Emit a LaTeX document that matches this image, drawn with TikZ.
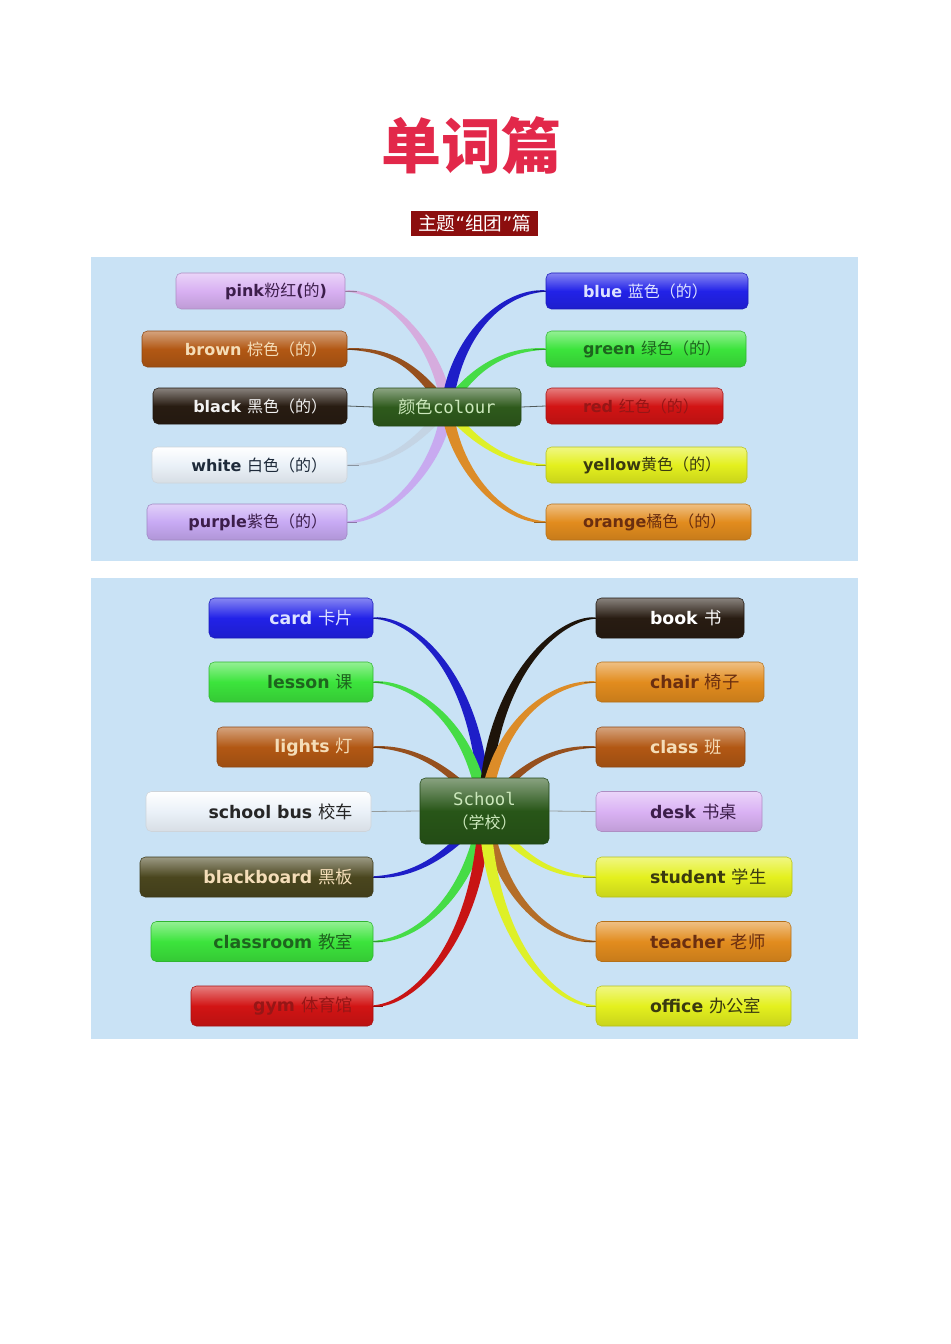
\documentclass[tikz,border=0pt]{standalone}
\usepackage{fontspec}
\setmainfont{DejaVu Sans}
\newfontfamily\cjk{Noto Sans CJK SC}
\newfontfamily\monof{DejaVu Sans Mono}
\usetikzlibrary{calc}
\pgfdeclarelayer{bg}\pgfdeclarelayer{mid}\pgfsetlayers{bg,mid,main}
\definecolor{panel}{RGB}{201,226,245}
\definecolor{titleRed}{RGB}{226,40,74}
\definecolor{subRed}{RGB}{140,14,14}
% node fills
\definecolor{fPink}{RGB}{216,176,242}
\definecolor{fBrown}{RGB}{178,88,20}
\definecolor{fBlack}{RGB}{40,28,18}
\definecolor{fWhite}{RGB}{234,241,248}
\definecolor{fPurple}{RGB}{200,170,244}
\definecolor{fCenter}{RGB}{46,90,28}
\definecolor{fBlue}{RGB}{34,34,232}
\definecolor{fGreen}{RGB}{60,228,60}
\definecolor{fRed}{RGB}{210,20,20}
\definecolor{fYellow}{RGB}{228,240,30}
\definecolor{fOrange}{RGB}{226,140,30}
\definecolor{fOlive}{RGB}{74,70,30}
\definecolor{fSchool}{RGB}{40,86,24}
\definecolor{fDesk}{RGB}{218,178,244}
% text colours
\definecolor{tDarkPurple}{RGB}{60,30,74}
\definecolor{tCream}{RGB}{244,221,184}
\definecolor{tWhite}{RGB}{242,242,242}
\definecolor{tNavy}{RGB}{30,42,58}
\definecolor{tLightBlue}{RGB}{221,226,255}
\definecolor{tDarkGreen}{RGB}{30,100,30}
\definecolor{tDarkRed}{RGB}{150,22,22}
\definecolor{tOlive}{RGB}{58,58,16}
\definecolor{tBrownDark}{RGB}{106,46,16}
\definecolor{tCenter}{RGB}{204,232,188}
% branch colours
\definecolor{bPink}{RGB}{214,172,222}
\definecolor{bBrown}{RGB}{150,80,30}
\definecolor{bWhite}{RGB}{196,212,228}
\definecolor{bPurple}{RGB}{200,170,240}
\definecolor{bBlue}{RGB}{30,30,200}
\definecolor{bGreen}{RGB}{70,220,70}
\definecolor{bYellow}{RGB}{222,240,40}
\definecolor{bOrange}{RGB}{220,140,40}
\definecolor{bRed}{RGB}{200,20,20}
\definecolor{bBlack}{RGB}{30,20,10}
\definecolor{bTeacher}{RGB}{180,110,40}
\definecolor{thinline}{RGB}{80,90,90}
% tapered branch: colour, end point, end ctrl dx, hub, hub ctrl dx, hub ctrl dy, side
\newcommand\branch[7]{%
  \fill[#1] ($(#2)+(0,0.7)$) .. controls ($(#2)+(#3,3.5)$) and ($(#4)+({#5+(#7)*6},#6)$) .. ($(#4)+({(#7)*6},0)$)
    -- ($(#4)+({-(#7)*6},0)$) .. controls ($(#4)+({#5-(#7)*6},#6)$) and ($(#2)+(#3,-3.5)$) .. ($(#2)+(0,-0.7)$) -- cycle;
  \draw[#1!70!black, line width=0.5pt] (#2) -- ++({(#3)*0.25},0);}
\newcommand\wrd[2]{\textbf{#1}{\cjk #2}}
\begin{document}
\begin{tikzpicture}[x=0.75pt,y=-0.75pt,
  box/.style={rounded corners=4pt, inner sep=0, minimum height=27pt,
    top color=#1!55!white, bottom color=#1!88!black, middle color=#1, draw=#1!80!black, line width=0.4pt},
  wbox/.style={rounded corners=4pt, inner sep=0, minimum height=27pt,
    top color=white, bottom color=fWhite!92!black, middle color=fWhite, draw=fWhite!88!black, line width=0.4pt},
  tall/.style={minimum height=30pt},
  txt/.style={inner sep=0, text=#1, font=\fontsize{12}{14}\selectfont},
  btxt/.style={inner sep=0, text=#1, font=\fontsize{13}{15}\selectfont},
  thin/.style={draw=thinline, line width=0.6pt}]
\useasboundingbox (0,0) rectangle (950,1344);

% title
\node[font=\cjk\bfseries\fontsize{45}{50}\selectfont, text=titleRed, inner sep=0] (title) at (471,146) {单词篇};
\node[fill=subRed, text=white, font=\fontsize{14}{16}\selectfont, minimum width=95.25pt, minimum height=18.75pt, inner sep=0] (sub) at (474.5,223.5) {{\cjk 主题}“{\cjk 组团}”{\cjk 篇}};

\begin{pgfonlayer}{bg}
  \fill[panel] (91,257) rectangle (858,561);
  \fill[panel] (91,578) rectangle (858,1039);
\end{pgfonlayer}

% ===== top mind map =====
\node[box=fCenter, minimum width=111pt, minimum height=28.5pt, text=tCenter, font=\fontsize{13}{15}\selectfont] (colour) at (447,407) {{\cjk 颜色}{\monof colour}};

\node[box=fPink, minimum width=126.75pt] (nPink) at (260.5,291) {};
\node[txt=tDarkPurple, anchor=east] (tPink) at ($(nPink.east)+(-18,0)$) {\textbf{pink}{\cjk 粉红}\textbf{(}{\cjk 的}\textbf{)}};
\node[box=fBrown, minimum width=153.75pt] (nBrown) at (244.5,349) {};
\node[txt=tCream, anchor=east] (tBrown) at ($(nBrown.east)+(-20,0)$) {\wrd{brown }{棕色（的）}};
\node[box=fBlack, minimum width=145.5pt] (nBlack) at (250,406) {};
\node[txt=tWhite, anchor=east] (tBlack) at ($(nBlack.east)+(-20,0)$) {\wrd{black }{黑色（的）}};
\node[wbox, minimum width=146.25pt] (nWhite) at (249.5,465) {};
\node[txt=tNavy, anchor=east] (tWhite) at ($(nWhite.east)+(-20,0)$) {\wrd{white }{白色（的）}};
\node[box=fPurple, minimum width=150pt] (nPurple) at (247,522) {};
\node[txt=tDarkPurple, anchor=east] (tPurple) at ($(nPurple.east)+(-20,0)$) {\wrd{purple}{紫色（的）}};

\node[box=fBlue, minimum width=151.5pt] (nBlue) at (647,291) {};
\node[txt=tLightBlue, anchor=west] (tBlue) at ($(nBlue.west)+(37,0)$) {\wrd{blue }{蓝色（的）}};
\node[box=fGreen, minimum width=150pt] (nGreen) at (646,349) {};
\node[txt=tDarkGreen, anchor=west] (tGreen) at ($(nGreen.west)+(37,0)$) {\wrd{green }{绿色（的）}};
\node[box=fRed, minimum width=132.75pt] (nRed) at (634.5,406) {};
\node[txt=tDarkRed, anchor=west] (tRed) at ($(nRed.west)+(37,0)$) {\wrd{red }{红色（的）}};
\node[box=fYellow, minimum width=150.75pt] (nYellow) at (646.5,465) {};
\node[txt=tOlive, anchor=west] (tYellow) at ($(nYellow.west)+(37,0)$) {\wrd{yellow}{黄色（的）}};
\node[box=fOrange, minimum width=153.75pt] (nOrange) at (648.5,522) {};
\node[txt=tBrownDark, anchor=west] (tOrange) at ($(nOrange.west)+(37,0)$) {\wrd{orange}{橘色（的）}};

\begin{pgfonlayer}{mid}
  \branch{bPink}{nPink.east}{45}{colour.center}{-8}{-60}{-1}
  \branch{bBrown}{nBrown.east}{55}{colour.center}{-25}{-30}{-1}
  \branch{bWhite}{nWhite.east}{45}{colour.center}{-25}{30}{1}
  \branch{bPurple}{nPurple.east}{40}{colour.center}{-6}{60}{1}
  \branch{bBlue}{nBlue.west}{-45}{colour.center}{8}{-70}{1}
  \branch{bGreen}{nGreen.west}{-50}{colour.center}{20}{-30}{1}
  \branch{bYellow}{nYellow.west}{-40}{colour.center}{20}{30}{-1}
  \branch{bOrange}{nOrange.west}{-45}{colour.center}{6}{60}{-1}
  \draw[thin] (nBlack.east) -- (colour.west);
  \draw[thin] (colour.east) -- (nRed.west);
\end{pgfonlayer}

% ===== bottom mind map =====
\node[box=fSchool, minimum width=96.75pt, minimum height=49.5pt, text=tCenter, align=center, font=\fontsize{13}{17}\selectfont] (school) at (484.5,811) {{\monof School}\\{\cjk\fontsize{12}{17}\selectfont （学校）}};

\node[box=fBlue, tall, minimum width=123pt] (nCard) at (291,618) {};
\node[btxt=tLightBlue, anchor=east] (tCard) at ($(nCard.east)+(-20,0)$) {\wrd{card }{卡片}};
\node[box=fGreen, tall, minimum width=123pt] (nLesson) at (291,682) {};
\node[btxt=tDarkGreen, anchor=east] (tLesson) at ($(nLesson.east)+(-20,0)$) {\wrd{lesson }{课}};
\node[box=fBrown, tall, minimum width=117pt] (nLights) at (295,747) {};
\node[btxt=tCream, anchor=east] (tLights) at ($(nLights.east)+(-20,0)$) {\wrd{lights }{灯}};
\node[wbox, tall, minimum width=168.75pt] (nBus) at (258.5,811.5) {};
\node[btxt=black!85, anchor=east] (tBus) at ($(nBus.east)+(-18,0)$) {\wrd{school bus }{校车}};
\node[box=fOlive, tall, minimum width=174.75pt] (nBoard) at (256.5,877) {};
\node[btxt=tCream, anchor=east] (tBoard) at ($(nBoard.east)+(-20,0)$) {\wrd{blackboard }{黑板}};
\node[box=fGreen, tall, minimum width=166.5pt] (nClassroom) at (262,941.5) {};
\node[btxt=tDarkGreen, anchor=east] (tClassroom) at ($(nClassroom.east)+(-20,0)$) {\wrd{classroom }{教室}};
\node[box=fRed, tall, minimum width=136.5pt] (nGym) at (282,1006) {};
\node[btxt=tDarkRed, anchor=east] (tGym) at ($(nGym.east)+(-20,0)$) {\wrd{gym }{体育馆}};

\node[box=fBlack, tall, minimum width=111pt] (nBook) at (670,618) {};
\node[btxt=white, anchor=west] (tBook) at ($(nBook.west)+(54,0)$) {\wrd{book }{书}};
\node[box=fOrange, tall, minimum width=126pt] (nChair) at (680,682) {};
\node[btxt=tBrownDark, anchor=west] (tChair) at ($(nChair.west)+(54,0)$) {\wrd{chair }{椅子}};
\node[box=fBrown, tall, minimum width=111.75pt] (nClass) at (670.5,747) {};
\node[btxt=tCream, anchor=west] (tClass) at ($(nClass.west)+(54,0)$) {\wrd{class }{班}};
\node[box=fDesk, tall, minimum width=124.5pt] (nDesk) at (679,811.5) {};
\node[btxt=tDarkPurple, anchor=west] (tDesk) at ($(nDesk.west)+(54,0)$) {\wrd{desk }{书桌}};
\node[box=fYellow, tall, minimum width=147pt] (nStudent) at (694,877) {};
\node[btxt=tOlive, anchor=west] (tStudent) at ($(nStudent.west)+(54,0)$) {\wrd{student }{学生}};
\node[box=fOrange, tall, minimum width=146.25pt] (nTeacher) at (693.5,941.5) {};
\node[btxt=tBrownDark, anchor=west] (tTeacher) at ($(nTeacher.west)+(54,0)$) {\wrd{teacher }{老师}};
\node[box=fYellow, tall, minimum width=146.25pt] (nOffice) at (693.5,1006) {};
\node[btxt=tOlive, anchor=west] (tOffice) at ($(nOffice.west)+(54,0)$) {\wrd{office }{办公室}};

\begin{pgfonlayer}{mid}
  \branch{bBlue}{nCard.east}{45}{school.center}{-3}{-130}{-1}
  \branch{bGreen}{nLesson.east}{40}{school.center}{-12}{-90}{-1}
  \branch{bBrown}{nLights.east}{45}{school.center}{-30}{-40}{-1}
  \branch{bBlue}{nBoard.east}{45}{school.center}{-30}{40}{1}
  \branch{bGreen}{nClassroom.east}{40}{school.center}{-15}{90}{1}
  \branch{bRed}{nGym.east}{40}{school.center}{-5}{130}{1}
  \branch{bBlack}{nBook.west}{-40}{school.center}{3}{-130}{1}
  \branch{bOrange}{nChair.west}{-45}{school.center}{10}{-90}{1}
  \branch{bBrown}{nClass.west}{-50}{school.center}{30}{-40}{1}
  \branch{bYellow}{nStudent.west}{-50}{school.center}{30}{40}{-1}
  \branch{bTeacher}{nTeacher.west}{-45}{school.center}{15}{90}{-1}
  \branch{bYellow}{nOffice.west}{-40}{school.center}{5}{130}{-1}
  \draw[thin, draw=thinline!60] (nBus.east) -- (school.west);
  \draw[thin, draw=thinline!60] (school.east) -- (nDesk.west);
\end{pgfonlayer}
\end{tikzpicture}
\end{document}
